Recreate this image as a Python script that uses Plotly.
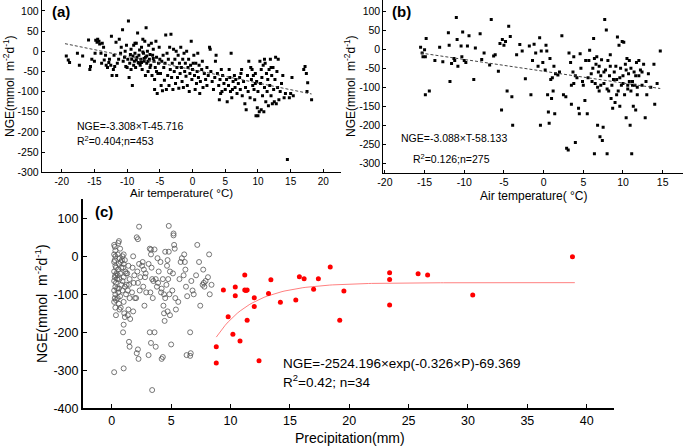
import math
import plotly.graph_objects as go

W, H = 685, 447
FONT = "Arial, Liberation Sans, sans-serif"

# ---------------- Panel (a): air temperature vs NGE ----------------
a_T = [-19.3, -19.0, -18.8, -17.6, -17.3, -16.8, -15.9, -15.7, -15.6, -15.4, -15.0, -14.9,
       -14.8, -14.6, -14.5, -14.3, -14.2, -14.0, -13.9, -13.8, -13.6, -13.5, -13.3, -13.2, -13.0,
       -12.8, -12.7, -12.5, -12.4, -12.3, -12.1, -12.0, -11.9, -11.7, -11.6, -11.5, -11.3, -11.2,
       -11.0, -10.9, -10.7, -10.6, -10.4, -10.3, -10.2, -10.1, -10.0,
       -9.8, -9.7, -9.6, -9.5, -9.4, -9.3, -9.2, -9.1, -9.0, -8.9, -8.8, -8.7, -8.6, -8.5, -8.4,
       -8.3, -8.2, -8.1, -8.0, -7.9, -7.8, -7.7, -7.6, -7.5, -7.4, -7.3, -7.2, -7.1, -7.0, -6.9,
       -6.8, -6.7, -6.6, -6.5, -6.4, -6.3, -6.2, -6.1, -6.0, -5.9, -5.8, -5.7, -5.6, -5.5, -5.4,
       -5.3, -5.2, -5.1, -5.0,
       -9.9, -9.0, -8.6, -8.2, -7.8, -7.4, -7.0, -6.5, -6.0, -5.5, -8.8, -7.6, -6.8, -9.4, -7.2, -5.8,
       -4.9, -4.8, -4.7, -4.6, -4.5, -4.4, -4.3, -4.2, -4.1, -4.0, -3.9, -3.8, -3.7, -3.6, -3.5,
       -3.4, -3.3, -3.2, -3.1, -3.0, -2.9, -2.8, -2.7, -2.6, -2.5, -2.4, -2.3, -2.2, -2.1, -2.0,
       -1.9, -1.8, -1.7, -1.6, -1.5, -1.4, -1.3, -1.2, -1.1, -1.0, -0.9, -0.8, -0.7, -0.6, -0.5,
       -0.4, -0.3, -0.2, -0.1, 0.0,
       0.1, 0.2, 0.3, 0.4, 0.5, 0.6, 0.7, 0.8, 0.9, 1.0, 1.1, 1.2, 1.4, 1.6, 1.8, 2.0, 2.2, 2.4,
       2.6, 2.7, 2.8, 3.0, 3.2, 3.4, 3.6, 3.8, 4.0, 4.1, 4.2, 4.4, 4.5, 4.6, 4.8, 5.0, 3.5, 4.3,
       2.2, 1.5,
       5.2, 5.3, 5.5, 5.6, 5.8, 5.9, 6.0, 6.2, 6.4, 6.5, 6.6, 6.8, 7.0, 7.2, 7.3, 7.5, 7.6, 7.8,
       8.0, 8.1, 8.2, 8.4, 8.5, 8.6, 8.8, 9.0, 9.1, 9.2, 9.3, 9.4, 9.5, 9.6, 9.7, 9.8, 9.9, 10.0,
       10.0, 9.6, 8.9, 7.4, 6.1, 5.7,
       10.2, 10.3, 10.4, 10.5, 10.6, 10.7, 10.8, 10.9, 11.0, 11.1, 11.2, 11.3, 11.4, 11.5, 11.6,
       11.7, 11.8, 11.9, 12.0, 12.1, 12.2, 12.3, 12.4, 12.5, 12.6, 12.7, 12.8, 12.9, 13.0, 13.2,
       13.4, 13.6, 13.8, 14.0, 14.2, 14.5, 14.8, 15.0, 15.2, 15.4, 10.5, 11.0, 12.0, 13.1,
       17.0, 17.2, 17.4, 17.5, 17.6, 18.2]
a_NGE = [-12, -22, -28, -5, -35, -12, 28, -45, -38, -20, -25, -5,
         27, 22, 30, 25, 18, -5, -30, 20, 10, -22, -10, -35, -40,
         -28, -20, -35, 37, -60, -45, -10, -38, 22, -60, -30, -20, 30,
         -5, 10, 53, -25, -15, 0, -38, 15, -40,
         75, -65, -30, -8, 5, -20, -85, -12, 15, -25, -5, -40, 20, -15, 45,
         -28, -10, 3, -35, -20, 10, -45, 30, -5, -25, 25, -15, 58, -30, 0,
         -50, 15, -20, -8, -35, 20, -60, -10, 5, -25, -95, -40, 25, -15, -105,
         -55, -30, 10, -20,
         -20, -35, -22, -30, -28, -18, -12, -40, -18, -50, 20, -2, -25, -45, -60, -70,
         -55, -85, -25, -98, -10, -40, -72, -30, 40, -95, -5, -60, -20, -85, 10,
         -45, 42, -65, -30, -95, 5, -50, -20, -80, 0, -40, -65, -10, -92, -30,
         -55, 10, -40, -75, -20, -90, -5, -50, -30, -62, 0, -85, -40, -20, -100,
         -55, -35, 25, -70, -45,
         -30, -10, -60, -95, -30, -80, -50, -5, -65, -35, -105, -75, -45, -90, -55, -70, -85, -60,
         10, 5, -50, -75, -95, -65, -10, -55, -85, -120, -70, -45, -100, -60, -80, -95, -25, -105,
         -40, -25,
         -70, -125, -85, -45, -100, -5, -115, -75, -60, -90, -70, -105, -80, -65, -95, -45, -110, -75,
         -130, -90, -145, -60, -100, -25, -115, -70, -45, -85, -60, -95, -120, -55, -160, -75, -140, -160,
         -100, -80, -40, -55, -95, -65,
         -150, -25, -80, -145, -65, -110, -35, -150, -90, -30, -125, -55, -100, -70, -135,
         -45, -85, -20, -110, -60, -130, -40, -95, -125, -70, -15, -130, -50, -90, -120,
         -100, -80, -60, -115, -105, -268, -115, -105, -65, -110, -45, -20, -40, -20,
         -45, -38, -55, -100, -78, -120]

# ---------------- Panel (b): air temperature vs NGE ----------------
b_T = [-15.5, -15.3, -15.2, -15.0, -14.9, -14.8, -14.9, -14.4, -13.7, -13.1, -12.7, -12.0, -11.9,
       -11.8, -11.6, -11.3, -11.2, -11.0, -10.9, -10.8, -10.4, -10.3, -10.2, -10.0, -9.8, -9.6,
       -9.4, -8.8, -8.6, -8.0, -7.8, -7.5, -6.8, -6.6, -6.3, -6.1, -5.7, -5.5, -5.3, -5.2, -5.0,
       -4.8, -4.6, -4.4, -4.2, -4.0, -3.9,
       -3.4, -3.0, -2.7, -2.3, -1.8, -1.6, -1.4, -1.2, -1.0, -0.7, -0.5, -0.4, -0.3, -0.1, 0.2,
       0.3, 0.4, 0.5, 0.6, 0.7, 0.8, 0.9, 1.0, 1.1, 1.2, 1.3, 1.4, 1.5, 1.8,
       2.3, 2.5, 2.8, 2.9, 3.1, 3.2, 3.4, 3.5, 3.5, 3.7, 3.8, 4.0, 4.2, 4.4, 4.5, 4.6, 4.7, 4.9,
       5.0, 5.2, 5.3, 5.5, 5.6, 5.8,
       6.0, 6.2, 6.3, 6.4, 6.5, 6.6, 6.7, 6.8, 6.9, 7.0, 7.1, 7.2, 7.3, 7.4, 7.5, 7.6, 7.7, 7.8,
       7.9, 8.0, 8.1, 8.2, 8.3, 8.4, 8.5, 8.6, 8.7, 8.9, 9.0, 9.2, 9.3, 9.4, 9.5, 9.6, 9.7, 9.8,
       9.9, 10.0, 10.1,
       10.2, 10.3, 10.4, 10.5, 10.6, 10.7, 10.8, 10.9, 11.0, 11.1, 11.2, 11.3, 11.4, 11.5, 11.6,
       11.7, 11.8, 12.0, 12.2, 12.4, 12.6, 12.8, 12.9, 13.0, 13.2, 13.5, 13.9, 14.0, 14.3, 14.7,
       5.7, 6.1, 6.8, 7.2, 7.6, 8.0, 8.8, 9.1, 9.6, 10.0, 10.4, 10.8, 11.2, 11.6, 12.0, 12.4,
       6.4, 7.0, 8.4, 9.2, 10.6, 11.0, 11.8, 4.0, 3.8, 2.0]
b_NGE = [5, -10, -20, -2, -20, 28, -120, -110, -30, 5, -33, 43, 10,
         -85, -38, -25, -30, 83, 25, -45, 8, -20, 45, -30, -35, 8,
         35, -80, 3, 40, -27, -10, -42, 78, -18, -15, -58, 15, -160, 25, 10,
         20, -110, 60, 33, -125, -200,
         -15, 12, -5, -78, 8, -120, -30, 13, -10, -45, 30, -200, -5, -35, -55,
         10, -5, -120, -165, -195, -25, -80, -130, -75, -110, -45, -170, -65, -68,
         35, -120, -125, -260, -265, -10, -35, -95, -145, -60, -20, -245, -75, -155, -170, -12, -50, -85,
         -95, -135, -30, -170, -75, -3,
         -65, -50, 28, -275, -90, -40, -20, -200, -60, -110, -230, -70, -28, -240, -205, -90, 78, -55,
         50, -275, -30, -110, -70, -45, -130, -95, -155, -60, -140, -80, 32, -110, 10, -150, -50, -95,
         20, -70, 18,
         -120, -40, -180, -25, -95, -65, -30, -200, -110, -275, -85, -150, -60, -95, -160,
         -35, -100, -70, -55, -95, -40, -180, -85, -120, -65, -100, -40, -145, -90, -5,
         -30, -85, -100, -95, -60, -105, -80, -45, -75, -90, -55, -85, -95, -70, -30, -60,
         -25, -45, -15, -120, -105, -50, -120, -70, -90, -60]

# ---------------- Panel (c): precipitation vs NGE ----------------
c_P_open = [0.2, 0.25, 0.3, 0.2, 0.3, 0.25, 0.2, 0.3, 0.35, 0.2, 0.3, 0.25, 0.2, 0.35, 0.3, 0.2,
            0.3, 0.25, 0.2, 0.3, 0.35, 0.2,
            0.6, 0.55, 0.7, 0.5, 0.65, 0.75, 0.6, 0.55, 0.7, 0.5, 0.65, 0.8, 0.6, 0.55, 0.7, 0.5,
            0.75, 0.6,
            1.0, 0.9, 1.1, 1.0, 0.95, 1.15, 1.0, 0.9, 1.1, 1.2, 1.0, 1.05, 1.1, 1.0, 0.95, 1.0,
            1.4, 1.3, 1.5, 1.45, 1.35, 1.5, 1.4, 1.55, 1.45, 1.5, 1.35,
            1.8, 1.75, 1.9, 1.85, 1.7, 1.95, 1.8,
            2.1, 2.2, 2.3, 2.15, 2.4, 2.2, 2.35, 2.05, 2.1, 2.25, 2.2, 2.3,
            2.6, 2.7, 2.8, 2.65, 2.9, 2.75, 2.55, 2.85,
            3.2, 3.3, 3.1, 3.4, 3.25, 3.45, 3.2, 3.3, 3.1, 3.4, 3.35, 3.5, 3.3,
            3.7, 3.9, 3.8, 3.6, 3.7, 3.85, 3.6, 3.95,
            4.1, 4.3, 4.2, 4.4, 4.5, 4.2, 4.35, 4.4, 4.45, 4.3, 4.15, 4.5,
            4.8, 4.7, 4.9, 4.75, 4.6, 4.85, 4.9, 5.0, 4.7, 4.65, 4.8,
            5.2, 5.2, 5.25, 5.3, 5.1, 5.35, 5.4, 5.15,
            5.8, 5.7, 5.6, 5.9,
            6.1, 6.2, 6.05, 6.25, 6.3, 6.6, 6.35, 6.15,
            6.6, 6.8, 6.7, 6.9, 6.65,
            7.2, 7.35, 7.1, 7.45,
            7.7, 7.75, 7.8, 7.65, 7.9,
            8.2, 8.4, 8.25, 8.1,
            0.4, 0.45, 0.8, 0.85, 0.45, 1.2, 1.25, 0.35, 0.65, 0.9]
c_NGE_open = [30, 25, 15, 5, 0, -10, -15, -25, -30, -40, -50, -55, -65, -70, -80, -90,
              -100, -110, -120, -135, -155, -305,
              40, 35, 20, 5, -5, -15, -20, -35, -45, -50, -60, -75, -85, -95, -105, -110,
              -135, -125,
              5, 0, -10, -20, -30, -40, -55, -65, -80, -100, -120, -150, -160, -180, -200, -295,
              -25, -45, -60, -75, -90, -110, -140, -165, -225, -238, -155,
              0, -30, -50, -70, -95, -110, -145,
              50, 45, -20, -40, -55, -70, -90, -110, -255, -270, -245, 78,
              -15, -35, -55, -80, -95, -130, -25, -45,
              20, 18, -20, -60, -95, -110, -200, -228, -260, -352, -30, -65, 5,
              -60, -70, -80, -200, -238, -5, 18, -40,
              -15, -60, -85, -100, -110, -270, -130, -150, -170, -265, -95, 12,
              80, -10, -40, -60, -75, -100, -155, -232, -145, -25, 12,
              60, 55, 30, 20, -90, -110, -140, -45,
              -15, -60, -120, -5,
              5, -35, -50, -80, -260, -262, -105, -15,
              -200, -90, -65, -100, -255,
              30, -15, -50, -130,
              -35, -70, -80, -75, -65,
              5, -75, -100, -55,
              -45, -60, -30, -10, -85, -45, -75, -115, -140, -90]

c_P_red = [8.8, 8.8, 9.4, 9.8, 10.2, 10.4, 10.4, 10.8, 11.2, 11.2, 11.4, 11.4, 12.0, 12.0, 12.4,
           13.2, 13.4, 14.2, 15.5, 15.8, 16.2, 17.0, 17.4, 18.4, 19.2, 19.55, 23.4, 23.4, 23.4,
           25.8, 26.6, 30.4, 38.8, 11.3]
c_NGE_red = [-238, -281, -89, -159, -205, -81, -104, -223, -49, -89, -89, -168, -109, -132, -275,
             -98, -62, -121, -115, -54, -59, -87, -59, -28, -168, -91, -43, -61, -128,
             -46, -49, -102, -1, -90]

# tick values
a_xticks = [-20, -15, -10, -5, 0, 5, 10, 15, 20]
a_yticks = [-300, -250, -200, -150, -100, -50, 0, 50, 100]
b_xticks = [-20, -15, -10, -5, 0, 5, 10, 15]
b_yticks = [-300, -250, -200, -150, -100, -50, 0, 50, 100]
c_xticks = [0, 5, 10, 15, 20, 25, 30, 35, 40]
c_yticks = [-400, -300, -200, -100, 0, 100]

# regression equations shown on the chart
a_slope, a_int, a_Trange = -3.308, -45.716, [-19.5, 18.2]
b_slope, b_int, b_Trange = -3.088, -58.133, [-15.5, 14.7]
c_A, c_k, c_C = -2524.196, -0.326, -69.369
c_Prange = (8.8, 39.0)

a_fit_y = [a_slope * t + a_int for t in a_Trange]
b_fit_y = [b_slope * t + b_int for t in b_Trange]
n_steps = 120
c_fit_x = [c_Prange[0] + (c_Prange[1] - c_Prange[0]) * i / n_steps for i in range(n_steps + 1)]
c_fit_y = [c_A * math.exp(c_k * p) + c_C for p in c_fit_x]

fig = go.Figure()
fig.add_trace(go.Scatter(x=a_T, y=a_NGE, mode="markers", xaxis="x", yaxis="y",
                         marker=dict(symbol="square", size=3, color="black"), showlegend=False))
fig.add_trace(go.Scatter(x=a_Trange, y=a_fit_y, mode="lines", xaxis="x", yaxis="y",
                         line=dict(color="#444", width=1, dash="3px,2px"), showlegend=False))
fig.add_trace(go.Scatter(x=b_T, y=b_NGE, mode="markers", xaxis="x2", yaxis="y2",
                         marker=dict(symbol="square", size=3, color="black"), showlegend=False))
fig.add_trace(go.Scatter(x=b_Trange, y=b_fit_y, mode="lines", xaxis="x2", yaxis="y2",
                         line=dict(color="#444", width=1, dash="3px,2px"), showlegend=False))
fig.add_trace(go.Scatter(x=c_P_open, y=c_NGE_open, mode="markers", xaxis="x3", yaxis="y3",
                         marker=dict(symbol="circle-open", size=5, color="#555",
                                     line=dict(width=0.8, color="#555")), showlegend=False))
fig.add_trace(go.Scatter(x=c_fit_x, y=c_fit_y, mode="lines", xaxis="x3", yaxis="y3",
                         line=dict(color="#ff8080", width=1), showlegend=False))
fig.add_trace(go.Scatter(x=c_P_red, y=c_NGE_red, mode="markers", xaxis="x3", yaxis="y3",
                         marker=dict(symbol="circle", size=5, color="red"), showlegend=False))


def fx(px):
    return px / W


def fy(py):
    return 1 - py / H


def axis(dom, rng, ticks, anchor, fs, lw=1, tl=3):
    return dict(domain=dom, range=rng, tickmode="array", tickvals=ticks,
                ticktext=[str(v) for v in ticks], anchor=anchor, automargin=False,
                showline=True, linecolor="black", linewidth=lw, ticks="inside",
                ticklen=tl, tickcolor="black", showgrid=False, zeroline=False,
                tickfont=dict(family=FONT, size=fs, color="black"))


fig.update_layout(
    width=W, height=H, margin=dict(l=0, r=0, t=0, b=0, pad=0, autoexpand=False),
    paper_bgcolor="white", plot_bgcolor="white",
    font=dict(family=FONT, color="black"),
    xaxis=axis([fx(41.7), fx(340.7)], [-23.06, 22.65], a_xticks, "y", 10),
    yaxis=axis([fy(172.3), fy(0)], [-300, 127], a_yticks, "x", 10.5),
    xaxis2=axis([fx(383.3), fx(683.3)], [-20.2, 17.6], b_xticks, "y2", 10.5),
    yaxis2=axis([fy(172.7), fy(0)], [-324.5, 128.9], b_yticks, "x2", 10.5),
    xaxis3=axis([fx(82.7), fx(614)], [-2.45, 42.3], c_xticks, "y3", 12.5, 1.5, 5),
    yaxis3=axis([fy(408.3), fy(199.3)], [-400, 150], c_yticks, "x3", 12.5, 1.5, 5),
)

ytitle = "NGE(mmol  m<sup>-2</sup>d<sup>-1</sup>)"
anns = [
    dict(x=fx(50), y=fy(12), text="<b>(a)</b>", size=15),
    dict(x=fx(390), y=fy(12), text="<b>(b)</b>", size=15),
    dict(x=fx(93), y=fy(211), text="<b>(c)</b>", size=15),
    dict(x=fx(75), y=fy(126), text="NGE=-3.308×T-45.716", size=10.5),
    dict(x=fx(75), y=fy(140), text="R<sup>2</sup>=0.404;n=453", size=10.5),
    dict(x=fx(399), y=fy(138), text="NGE=-3.088×T-58.133", size=10.5),
    dict(x=fx(411), y=fy(158), text="R<sup>2</sup>=0.126;n=275", size=10.5),
    dict(x=fx(281), y=fy(363), text="NGE=-2524.196×exp(-0.326×P)-69.369", size=13.5),
    dict(x=fx(281), y=fy(381), text="R<sup>2</sup>=0.42; n=34", size=13.5),
]
for a in anns:
    fig.add_annotation(x=a["x"], y=a["y"], xref="paper", yref="paper", text=a["text"],
                       showarrow=False, xanchor="left", yanchor="middle",
                       font=dict(family=FONT, size=a["size"], color="black"))

titles = [
    dict(x=fx(181), y=fy(193), text="Air temperature( °C)", size=11.5, angle=0),
    dict(x=fx(534), y=fy(196), text="Air temperature( °C)", size=12, angle=0),
    dict(x=fx(350), y=fy(438), text="Precipitation(mm)", size=14, angle=0),
    dict(x=fx(9), y=fy(86), text=ytitle, size=12, angle=-90),
    dict(x=fx(350), y=fy(86), text=ytitle, size=12, angle=-90),
    dict(x=fx(41), y=fy(304), text=ytitle, size=14, angle=-90),
]
for t in titles:
    fig.add_annotation(x=t["x"], y=t["y"], xref="paper", yref="paper", text=t["text"],
                       showarrow=False, xanchor="center", yanchor="middle", textangle=t["angle"],
                       font=dict(family=FONT, size=t["size"], color="black"))

fig.write_html("out.html", config={"displayModeBar": False},
               post_script="document.body.style.margin='0';document.body.style.overflow='hidden';")
